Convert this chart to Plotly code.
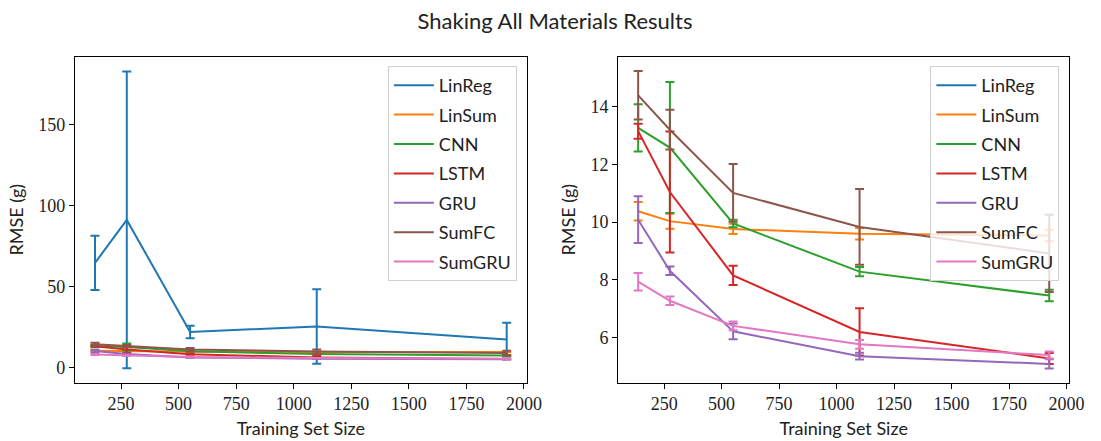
import plotly.graph_objects as go

train_size = [137, 275, 550, 1100, 1925]

models = ["LinReg", "LinSum", "CNN", "LSTM", "GRU", "SumFC", "SumGRU"]
colors = ["#1f77b4", "#ff7f0e", "#2ca02c", "#d62728", "#9467bd", "#8c564b", "#e377c2"]

linreg_mean = [64.5, 91.0, 21.9, 25.3, 17.3]
linreg_err = [16.7, 91.5, 3.9, 23.0, 10.3]

linsum_mean = [10.37, 10.03, 9.76, 9.59, 9.53]
linsum_err = [0.32, 0.26, 0.18, 0.20, 0.20]

cnn_mean = [13.26, 12.58, 9.95, 8.28, 7.45]
cnn_err = [0.82, 2.27, 0.13, 0.16, 0.20]

lstm_mean = [13.15, 11.04, 8.15, 6.19, 5.27]
lstm_err = [0.26, 2.10, 0.33, 0.82, 0.19]

gru_mean = [10.08, 8.31, 6.21, 5.35, 5.08]
gru_err = [0.81, 0.15, 0.27, 0.12, 0.16]

sumfc_mean = [14.39, 13.20, 11.01, 9.83, 8.91]
sumfc_err = [0.84, 0.69, 1.00, 1.31, 1.34]

sumgru_mean = [7.93, 7.27, 6.40, 5.76, 5.39]
sumgru_err = [0.30, 0.15, 0.15, 0.15, 0.12]

means = [linreg_mean, linsum_mean, cnn_mean, lstm_mean, gru_mean, sumfc_mean, sumgru_mean]
errs = [linreg_err, linsum_err, cnn_err, lstm_err, gru_err, sumfc_err, sumgru_err]

x_ticks = [250, 500, 750, 1000, 1250, 1500, 1750, 2000]
left_y_ticks = [0, 50, 100, 150]
right_y_ticks = [6, 8, 10, 12, 14]

SANS = "Lato, 'Open Sans', sans-serif"
SERIF = "'Liberation Serif', 'DejaVu Serif', serif"

fig = go.Figure()

for i, (name, c) in enumerate(zip(models, colors)):
    # left panel: all models
    fig.add_trace(go.Scatter(
        x=train_size, y=means[i], name=name, mode="lines",
        line=dict(color=c, width=2),
        error_y=dict(type="data", array=errs[i], visible=True, color=c, thickness=2, width=4.5),
        xaxis="x", yaxis="y", legend="legend", legendgroup="L" + name,
    ))

for i, (name, c) in enumerate(zip(models, colors)):
    # right panel: zoomed; LinReg is off-scale (legend entry only)
    if name == "LinReg":
        xs, ys, es = [None], [None], [0]
    else:
        xs, ys, es = train_size, means[i], errs[i]
    fig.add_trace(go.Scatter(
        x=xs, y=ys, name=name, mode="lines",
        line=dict(color=c, width=2),
        error_y=dict(type="data", array=es, visible=True, color=c, thickness=2, width=4.5),
        xaxis="x2", yaxis="y2", legend="legend2", legendgroup="R" + name,
    ))

W, H = 1101, 441
axis_common = dict(
    showgrid=False, zeroline=False, showline=True, linecolor="black", linewidth=1,
    mirror=True, ticks="outside", ticklen=5, tickwidth=1, tickcolor="black",
    tickfont=dict(family=SERIF, size=18, color="#222"),
)
ydom = [58.3 / H, 1 - 56.7 / H]

legend_common = dict(
    xanchor="right", yanchor="top",
    bgcolor="rgba(255,255,255,0.8)", bordercolor="#d0d0d0", borderwidth=1,
    font=dict(family=SANS, size=18, color="#222"),
    traceorder="grouped", tracegroupgap=3, itemwidth=40,
)

fig.update_layout(
    width=W, height=H,
    margin=dict(l=0, r=0, t=0, b=0),
    paper_bgcolor="white", plot_bgcolor="white",
    title=dict(text="Shaking All Materials Results", x=555 / W, y=1 - 21 / H,
               xanchor="center", yanchor="middle",
               font=dict(family=SANS, size=22, color="#222")),
    xaxis=dict(domain=[76 / W, 534 / W], range=[50, 2012], tickvals=x_ticks, anchor="y",
               title=dict(text="Training Set Size", font=dict(family=SANS, size=18, color="#222"), standoff=9),
               **axis_common),
    yaxis=dict(domain=ydom, range=[-9.4, 191.7], tickvals=left_y_ticks, anchor="x",
               title=dict(text="RMSE (g)", font=dict(family=SANS, size=18, color="#222"), standoff=10),
               **axis_common),
    xaxis2=dict(domain=[626.7 / W, 1084 / W], range=[50, 2012], tickvals=x_ticks, anchor="y2",
                title=dict(text="Training Set Size", font=dict(family=SANS, size=18, color="#222"), standoff=9),
                **axis_common),
    yaxis2=dict(domain=ydom, range=[4.43, 15.73], tickvals=right_y_ticks, anchor="x2",
                title=dict(text="RMSE (g)", font=dict(family=SANS, size=18, color="#222"), standoff=10),
                **axis_common),
    legend=dict(x=524 / W, y=1 - 66 / H, **legend_common),
    legend2=dict(x=1074 / W, y=1 - 66 / H, **legend_common),
    showlegend=True,
)

fig.write_html("out.html")
